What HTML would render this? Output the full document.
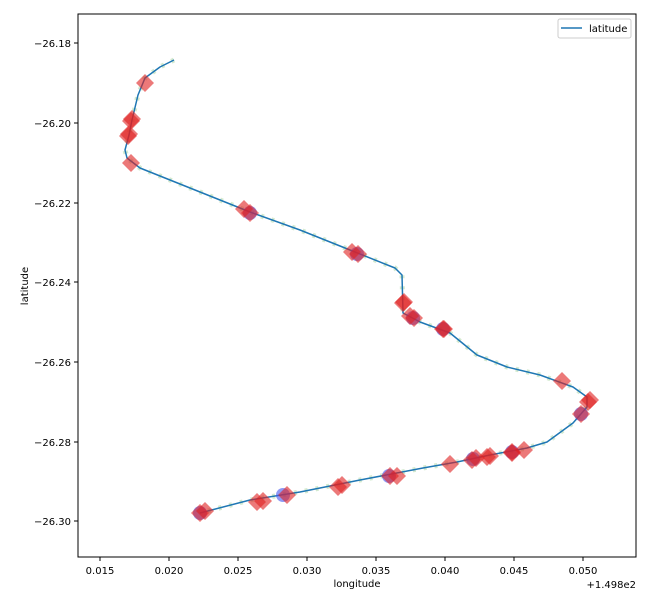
<!DOCTYPE html>
<html><head><style>body{margin:0;background:#fff}svg{display:block}text{font-family:"DejaVu Sans","Liberation Sans",sans-serif;font-size:10px;fill:#000}</style></head><body>
<svg width="661" height="599" viewBox="0 0 661 599">
<rect x="78" y="14" width="558" height="543" fill="#fff"/>
<g fill="none" stroke="#b8dcb0" stroke-width="5" stroke-dasharray="3 8" opacity="0.6">
<path d="M174,60 L160,67 L145,78 L138,95 L132,120 L129,135 L125,150 L127,158 L140,168 L170,180 L200,192 L250,212 L300,230 L345,248 L395,268 L402,275 L403,313 L420,322 L450,333 L477,355 L507,367 L540,375 L573,387 L587,397 L587,407 L573,423 L547,442 L527,448 L490,455 L457,462 L423,468 L360,480 L300,492 L250,500 L200,513"/>
</g>
<path d="M174,60 L160,67 L145,78 L138,95 L132,120 L129,135 L125,150 L127,158 L140,168 L170,180 L200,192 L250,212 L300,230 L345,248 L395,268 L402,275 L403,313 L420,322 L450,333 L477,355 L507,367 L540,375 L573,387 L587,397 L587,407 L573,423 L547,442 L527,448 L490,455 L457,462 L423,468 L360,480 L300,492 L250,500 L200,513" fill="none" stroke="#1f77b4" stroke-width="1.5" stroke-linejoin="round"/>
<g fill="#4455ee" fill-opacity="0.6">
<circle cx="200" cy="513" r="7"/><circle cx="283" cy="495" r="7"/><circle cx="389" cy="476" r="7"/><circle cx="473" cy="459" r="7"/><circle cx="512" cy="452" r="7"/><circle cx="581" cy="414" r="7"/><circle cx="443" cy="329" r="7"/><circle cx="357" cy="254" r="7"/><circle cx="250" cy="213" r="7"/><circle cx="413" cy="318" r="7"/>
</g>
<g fill="#e02020" fill-opacity="0.6">
<path id="d" d="M0,-9 L9,0 L0,9 L-9,0Z" transform="translate(145,83)"/>
<use href="#d" transform="translate(-14,38)"/><use href="#d" transform="translate(-13,36)"/>
<use href="#d" transform="translate(-17,53)"/><use href="#d" transform="translate(-16,51)"/>
<use href="#d" transform="translate(-14,80)"/>
<use href="#d" transform="translate(99,126)"/><use href="#d" transform="translate(105,130)"/>
<use href="#d" transform="translate(207,169)"/><use href="#d" transform="translate(213,171)"/>
<use href="#d" transform="translate(258,220)"/><use href="#d" transform="translate(259,219)"/>
<use href="#d" transform="translate(265,233)"/><use href="#d" transform="translate(269,235)"/>
<use href="#d" transform="translate(298,246)"/><use href="#d" transform="translate(299,246)"/>
<use href="#d" transform="translate(417,298)"/>
<use href="#d" transform="translate(443,319)"/><use href="#d" transform="translate(445,317)"/>
<use href="#d" transform="translate(436,331)"/>
<use href="#d" transform="translate(379,367)"/>
<use href="#d" transform="translate(367,369)"/><use href="#d" transform="translate(367,370)"/>
<use href="#d" transform="translate(345,373)"/><use href="#d" transform="translate(342,374)"/>
<use href="#d" transform="translate(331,375)"/><use href="#d" transform="translate(327,377)"/>
<use href="#d" transform="translate(305,381)"/>
<use href="#d" transform="translate(252,393)"/><use href="#d" transform="translate(245,393)"/>
<use href="#d" transform="translate(197,402)"/><use href="#d" transform="translate(193,404)"/>
<use href="#d" transform="translate(142,412)"/>
<use href="#d" transform="translate(118,418)"/><use href="#d" transform="translate(112,419)"/>
<use href="#d" transform="translate(60,428)"/><use href="#d" transform="translate(55,430)"/>
</g>
<rect x="78" y="14" width="558" height="543" fill="none" stroke="#000" stroke-width="1"/>
<g stroke="#000" stroke-width="1">
<line x1="100" y1="557" x2="100" y2="561"/><line x1="169" y1="557" x2="169" y2="561"/><line x1="238" y1="557" x2="238" y2="561"/><line x1="307" y1="557" x2="307" y2="561"/><line x1="376" y1="557" x2="376" y2="561"/><line x1="445" y1="557" x2="445" y2="561"/><line x1="514" y1="557" x2="514" y2="561"/><line x1="583" y1="557" x2="583" y2="561"/>
<line x1="74" y1="43" x2="78" y2="43"/><line x1="74" y1="123" x2="78" y2="123"/><line x1="74" y1="203" x2="78" y2="203"/><line x1="74" y1="282" x2="78" y2="282"/><line x1="74" y1="362" x2="78" y2="362"/><line x1="74" y1="442" x2="78" y2="442"/><line x1="74" y1="521" x2="78" y2="521"/>
</g>
<g text-anchor="middle">
<text x="100" y="574">0.015</text><text x="169" y="574">0.020</text><text x="238" y="574">0.025</text><text x="307" y="574">0.030</text><text x="376" y="574">0.035</text><text x="445" y="574">0.040</text><text x="514" y="574">0.045</text><text x="583" y="574">0.050</text>
<text x="357" y="587">longitude</text>
</g>
<text x="636" y="588" text-anchor="end">+1.498e2</text>
<g text-anchor="end">
<text x="71" y="47">−26.18</text><text x="71" y="127">−26.20</text><text x="71" y="207">−26.22</text><text x="71" y="286">−26.24</text><text x="71" y="366">−26.26</text><text x="71" y="446">−26.28</text><text x="71" y="525">−26.30</text>
</g>
<text transform="translate(28,286) rotate(-90)" text-anchor="middle">latitude</text>
<rect x="558" y="19" width="73" height="19" rx="2" fill="#fff" stroke="#ccc"/>
<line x1="561" y1="28" x2="582" y2="28" stroke="#1f77b4" stroke-width="1.5"/>
<text x="589" y="32">latitude</text>
</svg>
</body></html>
